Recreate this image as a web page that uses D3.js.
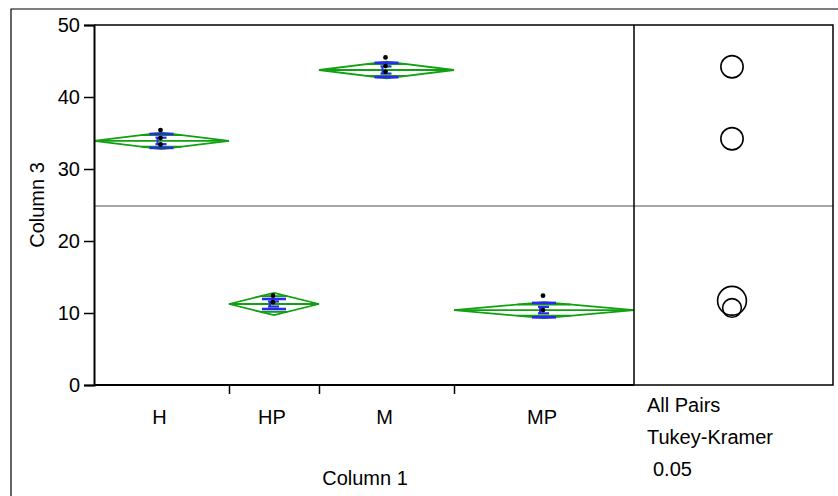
<!DOCTYPE html>
<html>
<head>
<meta charset="utf-8">
<script src="https://cdn.jsdelivr.net/npm/d3@7"></script>
<style>
  body { margin: 0; background: #fff; }
  text { font-family: "Liberation Sans", Arial, sans-serif; fill: #000; }
</style>
</head>
<body>
<script>
// groups, sample sizes and summary values
var groups   = ["H", "HP", "M", "MP"];
var counts   = [3, 2, 3, 4];
var means    = [33.9, 11.25, 43.75, 10.4];
var ciHalf   = [1.15, 1.55, 1.15, 1.1];
var sdVals   = [0.97, 0.7, 1.0, 1.0];
var seVals   = [0.45, 0.35, 0.5, 0.45];
var points   = [[35.4, 34.3, 33.4], [12.4, 11.5], [45.5, 44.3, 43.5], [12.4, 10.4]];
var circleY  = [34.2, 11.7, 44.2, 10.7];
var circleR  = [1.55, 2.0, 1.55, 1.3];
var grandMean = 24.85;
var yTicks   = [0, 10, 20, 30, 40, 50];

var W = 838, H = 496;
var pLeft = 94, pTop = 25, pBottom = 385, divX = 634, pRight = 833;
var fs = "20px";

var svg = d3.select("body").append("svg")
    .attr("width", W)
    .attr("height", H);

// outer frame
svg.append("path")
    .attr("d", "M11," + H + "V9H" + W)
    .attr("fill", "none")
    .attr("stroke", "#000")
    .attr("stroke-width", 1.2);

var total = d3.sum(counts);
var starts = d3.cumsum([0].concat(counts.slice(0, -1)));

var x = d3.scaleLinear().domain([0, total]).range([pLeft, divX]);
var y = d3.scaleLinear().domain([0, 50]).range([pBottom, pTop]);

var green = "#11a011", blue = "#2a2aee";

// grand mean line
svg.append("line")
    .attr("x1", pLeft).attr("x2", pRight)
    .attr("y1", y(grandMean)).attr("y2", y(grandMean))
    .attr("stroke", "#8a8a8a")
    .attr("stroke-width", 1.5);

// means diamonds
var grp = svg.selectAll(".grp")
    .data(groups)
    .enter().append("g")
    .attr("class", "grp");

grp.each(function (d, i) {
    var g = d3.select(this);
    var x0 = x(starts[i]), x1 = x(starts[i] + counts[i]), cx = (x0 + x1) / 2;
    var m = means[i], c = ciHalf[i];
    g.append("path")
        .attr("d", "M" + x0 + "," + y(m) + "L" + cx + "," + y(m + c) +
              "L" + x1 + "," + y(m) + "L" + cx + "," + y(m - c) + "Z")
        .attr("fill", "none")
        .attr("stroke", green)
        .attr("stroke-width", 1.8);
    g.append("line")
        .attr("x1", x0).attr("x2", x1)
        .attr("y1", y(m)).attr("y2", y(m))
        .attr("stroke", green).attr("stroke-width", 1.8);
    // overlap marks
    var hw = (x1 - x0) / 2 * (1 - Math.SQRT1_2);
    [1, -1].forEach(function (s) {
        g.append("line")
            .attr("x1", cx - hw).attr("x2", cx + hw)
            .attr("y1", y(m + s * c * Math.SQRT1_2)).attr("y2", y(m + s * c * Math.SQRT1_2))
            .attr("stroke", green).attr("stroke-width", 1.8);
    });
    // std dev lines
    [1, -1].forEach(function (s) {
        g.append("line")
            .attr("x1", cx - 12).attr("x2", cx + 12)
            .attr("y1", y(m + s * sdVals[i])).attr("y2", y(m + s * sdVals[i]))
            .attr("stroke", blue).attr("stroke-width", 2.6);
    });
    // std error bar
    g.append("line")
        .attr("x1", cx - 4).attr("x2", cx - 4)
        .attr("y1", y(m + seVals[i])).attr("y2", y(m - seVals[i]))
        .attr("stroke", blue).attr("stroke-width", 2);
    [1, -1].forEach(function (s) {
        g.append("line")
            .attr("x1", cx - 6).attr("x2", cx + 5)
            .attr("y1", y(m + s * seVals[i])).attr("y2", y(m + s * seVals[i]))
            .attr("stroke", blue).attr("stroke-width", 2.2);
    });
    // data points
    g.selectAll("circle")
        .data(points[i])
        .enter().append("circle")
        .attr("cx", cx - 1)
        .attr("cy", function (v) { return y(v); })
        .attr("r", 2.4)
        .attr("fill", "#000");
});

// comparison circles
svg.selectAll(".cmp")
    .data(groups)
    .enter().append("circle")
    .attr("class", "cmp")
    .attr("cx", 732)
    .attr("cy", function (d, i) { return y(circleY[i]); })
    .attr("r", function (d, i) { return y(0) - y(circleR[i]); })
    .attr("fill", "none")
    .attr("stroke", "#000")
    .attr("stroke-width", 1.6);

// frame of the plot panels
svg.append("path")
    .attr("d", "M" + pLeft + "," + pTop + "H" + pRight + "V" + pBottom + "H" + divX + "V" + pTop)
    .attr("fill", "none")
    .attr("stroke", "#000")
    .attr("stroke-width", 1.5);

// y axis
var yAxis = d3.axisLeft(y).tickValues(yTicks).tickSize(10).tickPadding(4);
var ya = svg.append("g")
    .attr("transform", "translate(" + pLeft + ",0)")
    .call(yAxis);
ya.select(".domain").attr("stroke-width", 2);
ya.selectAll("line").attr("stroke-width", 1.5);
ya.selectAll("text").style("font-size", fs).attr("font-family", null);

// x axis
var xa = svg.append("g")
    .attr("transform", "translate(0," + pBottom + ")")
    .call(d3.axisBottom(x).tickValues(starts.slice(1)).tickSize(9).tickFormat(""));
xa.select(".domain").attr("d", "M" + pLeft + ",0H" + divX).attr("stroke-width", 2);
xa.selectAll("line").attr("stroke-width", 1.5);

svg.selectAll(".xlab")
    .data(groups)
    .enter().append("text")
    .attr("class", "xlab")
    .attr("x", function (d, i) { return x(starts[i] + counts[i] / 2) - 2; })
    .attr("y", 424)
    .attr("text-anchor", "middle")
    .style("font-size", fs)
    .text(function (d) { return d; });

svg.append("text")
    .attr("x", 365).attr("y", 485)
    .attr("text-anchor", "middle")
    .style("font-size", fs)
    .text("Column 1");

svg.append("text")
    .attr("transform", "translate(44,205) rotate(-90)")
    .attr("text-anchor", "middle")
    .style("font-size", fs)
    .text("Column 3");

svg.append("text").attr("x", 647).attr("y", 412).style("font-size", fs).text("All Pairs");
svg.append("text").attr("x", 647).attr("y", 444).style("font-size", fs).text("Tukey-Kramer");
svg.append("text").attr("x", 653).attr("y", 476).style("font-size", fs).text("0.05");
</script>
</body>
</html>
